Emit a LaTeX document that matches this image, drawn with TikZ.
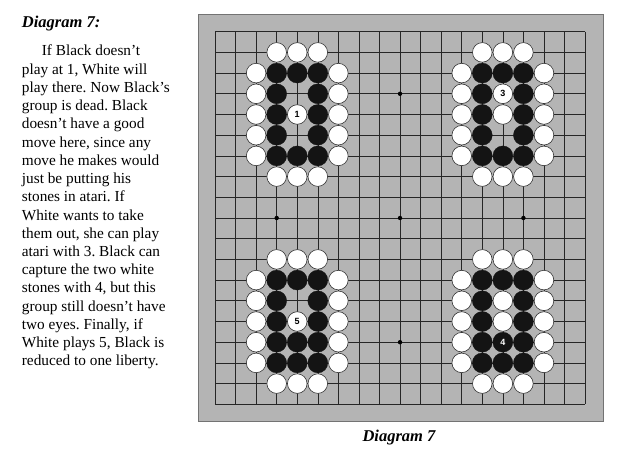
\documentclass[tikz,border=0pt]{standalone}
\usepackage{fontspec}
\setmainfont{Liberation Serif}
\newfontfamily\numfont{Liberation Sans}
\definecolor{boardgray}{RGB}{180,180,180}
\begin{document}
\frenchspacing
\begin{tikzpicture}[x=1pt,y=1pt,
  wst/.style={circle,draw=black!80,line width=0.6pt,fill=white,minimum size=19.6pt,inner sep=0pt,
    font=\numfont\bfseries\fontsize{9}{9}\selectfont},
  bst/.style={circle,fill=black!92,draw=black!92,line width=0.3pt,minimum size=20pt,inner sep=0pt,text=white,
    font=\numfont\bfseries\fontsize{9}{9}\selectfont},
  starpt/.style={circle,fill=black,minimum size=4.4pt,inner sep=0pt},
  gridline/.style={black!85,line width=0.6pt},
  bodytext/.style={anchor=base west,inner sep=0pt,font=\fontsize{15.3}{18}\selectfont},
  titletext/.style={anchor=base west,inner sep=0pt,font=\bfseries\itshape\fontsize{16.5}{18}\selectfont}]
\useasboundingbox (0,0) rectangle (623,455);
\fill[white] (0,0) rectangle (623,455);
% board
\node[fill=boardgray,draw=black!55,line width=0.8pt,minimum width=405pt,minimum height=407pt,inner sep=0pt] (board) at (400.8,237.5) {};
% text
\node[titletext] (title) at (21.7,427.5) {Diagram 7:};
\foreach \t [count=\k] in {%
  {\hspace*{20pt}If Black doesn’t},
  {play at 1, White will},
  {play there. Now Black’s},
  {group is dead. Black},
  {doesn’t have a good},
  {move here, since any},
  {move he makes would},
  {just be putting his},
  {stones in atari. If},
  {White wants to take},
  {them out, she can play},
  {atari with 3. Black can},
  {capture the two white},
  {stones with 4, but this},
  {group still doesn’t have},
  {two eyes. Finally, if},
  {White plays 5, Black is},
  {reduced to one liberty.}}
  \node[bodytext] (line\k) at (21.7,{399-18.23*(\k-1)}) {\t};
\node[titletext,anchor=base] (caption) at (399,14) {Diagram 7};
% grid
\begin{scope}[shift={(215,423.3)},x=20.56pt,y=-20.7pt]
  \foreach \i in {0,...,18} {
    \draw[gridline] (\i,0) -- (\i,18);
    \draw[gridline] (0,\i) -- (18,\i);
  }
  \foreach \a/\b [count=\k] in {3/3,9/3,15/3,3/9,9/9,15/9,3/15,9/15,15/15}
    \node[starpt] (star\k) at (\a,\b) {};
  % groups: frame
  \foreach \c/\r/\g in {3/1/tl,13/1/tr,3/11/bl,13/11/br} {
    \foreach \d in {0,1,2} {
      \node[wst] (\g wt\d) at (\c+\d,\r) {};
      \node[wst] (\g wb\d) at (\c+\d,\r+6) {};
      \node[bst] (\g bt\d) at (\c+\d,\r+1) {};
      \node[bst] (\g bb\d) at (\c+\d,\r+5) {};
    }
    \foreach \e in {1,...,5} {
      \node[wst] (\g wl\e) at (\c-1,\r+\e) {};
      \node[wst] (\g wr\e) at (\c+3,\r+\e) {};
    }
    \foreach \e in {2,3,4} {
      \node[bst] (\g bl\e) at (\c,\r+\e) {};
      \node[bst] (\g br\e) at (\c+2,\r+\e) {};
    }
  }
  % interiors
  \node[wst] (one) at (4,4) {1};
  \node[wst] (three) at (14,3) {3};
  \node[wst] (trw) at (14,4) {};
  \node[wst] (five) at (4,14) {5};
  \node[bst] (blb) at (4,15) {};
  \node[wst] (brw1) at (14,13) {};
  \node[wst] (brw2) at (14,14) {};
  \node[bst] (four) at (14,15) {4};
\end{scope}
\end{tikzpicture}
\end{document}
